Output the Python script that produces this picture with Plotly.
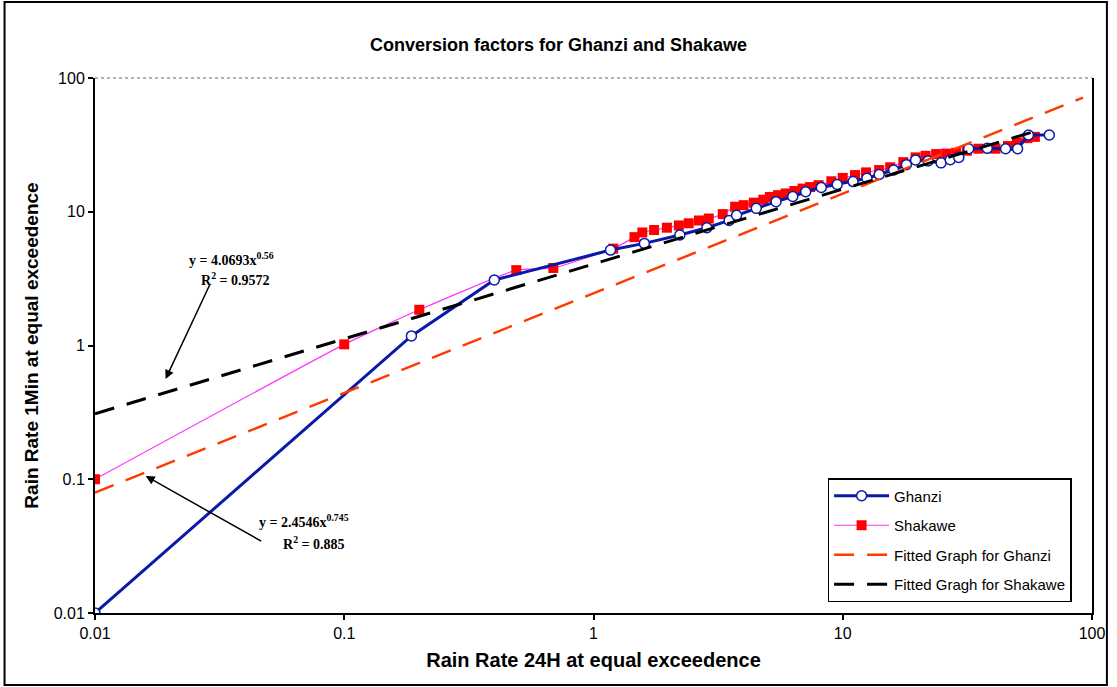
import numpy as np
import plotly.graph_objects as go

# ---------------- data ----------------
ghanzi_x = [0.01, 0.186, 0.40, 1.17, 1.6, 2.22, 2.85, 3.5, 3.75, 4.5, 5.4, 6.3, 7.1, 8.2,
            9.5, 11, 12.5, 14, 16, 18, 19.6, 22, 24.8, 27, 29.2, 32, 38, 45, 50.3, 55.6, 67.4]
ghanzi_y = [0.01, 1.18, 3.09, 5.17, 5.8, 6.7, 7.6, 8.6, 9.4, 10.6, 11.9, 13.0, 14.1, 15.2,
            16.0, 16.8, 17.8, 19.0, 20.5, 22.5, 24.4, 24.0, 23.2, 24.5, 25.5, 29.6, 29.8, 29.6,
            29.6, 37.5, 37.5]

shakawe_x = [0.01, 0.1, 0.2, 0.49, 0.69, 1.2, 1.46, 1.57, 1.75, 1.97, 2.2, 2.41, 2.65, 2.9,
             3.3, 3.7, 4.0, 4.4, 4.8, 5.1, 5.5, 5.9, 6.4, 6.9, 7.4, 8.0, 9.0, 10.0, 11.2,
             12.4, 14.0, 15.5, 17.5, 19.6, 21.5, 23.7, 26, 28.5, 31.5, 35, 41, 46, 50, 55, 59]
shakawe_y = [0.1, 1.02, 1.85, 3.66, 3.8, 5.3, 6.46, 7.0, 7.3, 7.6, 7.9, 8.2, 8.6, 8.9,
             9.6, 10.9, 11.2, 11.7, 12.3, 12.9, 13.3, 13.7, 14.3, 14.9, 15.3, 15.8, 16.9, 17.9, 18.8,
             19.7, 20.5, 21.5, 23.5, 25.5, 26.2, 27.0, 27.2, 27.6, 28.6, 29.6, 29.6, 31.0, 33, 35.5, 36.3]

# power-law trendlines y = a * x^b
fit_ghanzi_a, fit_ghanzi_b = 2.4546, 0.745
fit_shakawe_a, fit_shakawe_b = 4.0693, 0.56
fit_ghanzi_range = [0.01, 92]
fit_shakawe_range = [0.01, 60]

tick_vals = [0.01, 0.1, 1, 10, 100]
tick_text = ["0.01", "0.1", "1", "10", "100"]

fgx = np.logspace(np.log10(fit_ghanzi_range[0]), np.log10(fit_ghanzi_range[1]), 50)
fgy = fit_ghanzi_a * fgx ** fit_ghanzi_b
fsx = np.logspace(np.log10(fit_shakawe_range[0]), np.log10(fit_shakawe_range[1]), 50)
fsy = fit_shakawe_a * fsx ** fit_shakawe_b

FONT = "Liberation Sans, Arial, sans-serif"

fig = go.Figure()

fig.add_trace(go.Scatter(
    x=shakawe_x, y=shakawe_y, mode="lines+markers", name="Shakawe",
    line=dict(color="#FF33FF", width=1.2, shape="spline", smoothing=0.4),
    marker=dict(symbol="square", size=10, color="#FF0000", line=dict(width=0)),
    legendrank=2, legendgroup="b"))

fig.add_trace(go.Scatter(
    x=ghanzi_x, y=ghanzi_y, mode="lines+markers", name="Ghanzi",
    line=dict(color="#0A1AA8", width=3),
    marker=dict(symbol="circle", size=10, color="white", line=dict(color="#0A1AA8", width=1.5)),
    legendrank=1, legendgroup="a"))

fig.add_trace(go.Scatter(
    x=fgx, y=fgy, mode="lines", name="Fitted Graph for Ghanzi",
    line=dict(color="#FF3A00", width=2.5, dash="20px,13px"),
    legendrank=3, legendgroup="c"))

fig.add_trace(go.Scatter(
    x=fsx, y=fsy, mode="lines", name="Fitted Gragh for Shakawe",
    line=dict(color="black", width=3, dash="20px,13px"),
    legendrank=4, legendgroup="d"))

fig.update_layout(
    width=1117, height=687,
    margin=dict(l=95, r=19, t=78, b=74),
    paper_bgcolor="white", plot_bgcolor="white",
    font=dict(family=FONT, color="black"),
    title=dict(text="<b>Conversion factors for Ghanzi and Shakawe</b>",
               x=0.5, xanchor="center", y=1 - 45 / 687, yanchor="middle", yref="container",
               font=dict(size=18, family=FONT, color="black")),
    showlegend=True,
    legend=dict(x=(832 - 95) / 1003, y=(613 - 478) / 535, xanchor="left", yanchor="top",
                bordercolor="black", borderwidth=1.5, bgcolor="white",
                font=dict(size=15, family=FONT, color="black"),
                tracegroupgap=7, itemwidth=55),
)

fig.update_xaxes(
    type="log", range=[-2, 2], tickvals=tick_vals, ticktext=tick_text,
    showgrid=False, zeroline=False, showline=True, linecolor="black", linewidth=2,
    ticks="outside", ticklen=5, tickwidth=1.5, tickcolor="black",
    tickfont=dict(size=16, family=FONT, color="black"),
    title=dict(text="<b>Rain Rate 24H at equal exceedence</b>",
               font=dict(size=20, family=FONT, color="black"), standoff=12))

fig.update_yaxes(
    type="log", range=[-2, 2], tickvals=tick_vals, ticktext=tick_text,
    showgrid=False, zeroline=False, showline=True, linecolor="black", linewidth=2,
    mirror=True,
    ticks="outside", ticklen=5, tickwidth=1.5, tickcolor="black",
    tickfont=dict(size=16, family=FONT, color="black"),
    title=dict(text="<b>Rain Rate 1Min at equal exceedence</b>",
               font=dict(size=19, family=FONT, color="black"), standoff=10))

# faint top border of plot area and outer chart frame
fig.add_shape(type="line", xref="paper", yref="paper", x0=0, x1=1, y0=1, y1=1,
              line=dict(color="#999999", width=1.5, dash="dot"))
fig.add_shape(type="rect", xref="paper", yref="paper",
              x0=(4 - 95) / 1003, x1=(1113 - 95) / 1003,
              y0=(613 - 685) / 535, y1=(613 - 2) / 535,
              line=dict(color="black", width=2), fillcolor="rgba(0,0,0,0)")

EQF = dict(size=14, family="Liberation Serif, Times New Roman, serif", color="black")
fig.add_annotation(xref="paper", yref="paper", x=(232 - 95) / 1003, y=(613 - 259) / 535,
                   xanchor="center", yanchor="middle",
                   text="<b>y = 4.0693x<sup>0.56</sup></b>", showarrow=False, font=EQF)
fig.add_annotation(xref="paper", yref="paper", x=(236 - 95) / 1003, y=(613 - 279) / 535,
                   xanchor="center", yanchor="middle",
                   text="<b>R<sup>2</sup> = 0.9572</b>", showarrow=False, font=EQF)
fig.add_annotation(xref="paper", yref="paper", x=(305 - 95) / 1003, y=(613 - 521) / 535,
                   xanchor="center", yanchor="middle",
                   text="<b>y = 2.4546x<sup>0.745</sup></b>", showarrow=False, font=EQF)
fig.add_annotation(xref="paper", yref="paper", x=(315 - 95) / 1003, y=(613 - 543) / 535,
                   xanchor="center", yanchor="middle",
                   text="<b>R<sup>2</sup> = 0.885</b>", showarrow=False, font=EQF)

# arrows
fig.add_annotation(xref="paper", yref="paper", x=(166 - 95) / 1003, y=(613 - 379) / 535,
                   ax=45, ay=-96, axref="pixel", ayref="pixel", text="", showarrow=True,
                   arrowhead=2, arrowsize=1.2, arrowwidth=1.5, arrowcolor="black")
fig.add_annotation(xref="paper", yref="paper", x=(146 - 95) / 1003, y=(613 - 476) / 535,
                   ax=117, ay=66, axref="pixel", ayref="pixel", text="", showarrow=True,
                   arrowhead=2, arrowsize=1.2, arrowwidth=1.5, arrowcolor="black")

fig.write_html("out.html")
